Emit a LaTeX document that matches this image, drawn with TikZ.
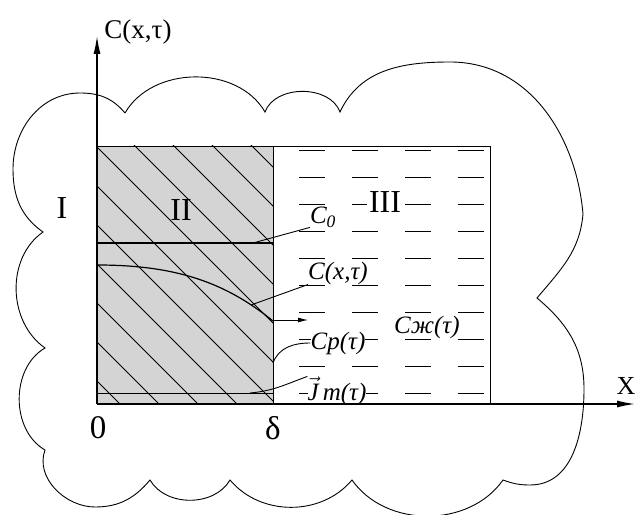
\documentclass[tikz,border=0pt]{standalone}
\usepackage{fontspec}
\setmainfont{Liberation Serif}
\usepackage{amsmath}
\usetikzlibrary{arrows.meta, positioning}

\begin{document}
\begin{tikzpicture}[x=1pt, y=1pt,
    vung/.style={font=\fontsize{32}{34}\selectfont},
    nhan/.style={font=\fontsize{25}{27}\selectfont\itshape, fill=white, inner sep=0pt},
    truc/.style={line width=1.4pt, -{Latex[length=18pt,width=7pt]}},
    net/.style={line width=0.9pt}]
    \useasboundingbox (0,0) rectangle (636,514);

    % Vùng II: nền xám và gạch chéo
    \fill[black!17] (97,110) rectangle (273,368);
    \begin{scope}
        \clip (97,110) rectangle (273,368);
        \foreach \k in {-9,...,4}
            \draw[line width=1pt] ({35+39*\k},468) -- ++(400,-400);
    \end{scope}

    % Vạch nét đứt trong vùng III
    \foreach \y [count=\i] in {364,337,...,121}{
        \pgfmathparse{isodd(\i) ? 26 : 49}
        \draw[net, dash pattern=on 26pt off 27pt, dash phase=\pgfmathresult pt]
            (273,\y) -- (490,\y);
    }

    % Khung và các đường
    \draw[net] (97,368) -- (490,368) -- (490,110);
    \draw[net] (273,110) -- (273,368);
    \draw[line width=1.2pt] (97,271) -- (273,271);
    \draw[net] (97,121) -- (273,121);
    \draw[line width=1.2pt] (97,249) .. controls (175,249) and (225,232) .. (273,193);
    \draw[net, -{Latex[length=10pt,width=5pt]}] (273,194) -- (308,194);

    % Nhãn các vùng
    \node[vung] (I) at (62,306) {I};
    \node[vung] (II) at (181,304) {II};
    \node[vung, fill=white, inner sep=2pt] (III) at (385,312) {III};
    \node[nhan] (C0) at (323,297) {C\textsubscript{0}};
    \node[nhan] (Cxt) at (338,241) {C(x,τ)};
    \node[nhan] (Czh) at (427,187) {Cж(τ)};
    \node[nhan] (Cp) at (338,171) {Cp(τ)};
    \node[nhan] (Jm) at (337,123) {$\vec{\text{\itshape J}}$\,m(τ)};

    % Đường chỉ dẫn
    \coordinate (c0goc) at (253,271);
    \coordinate (cxgoc) at (251,209);
    \coordinate (cpgoc) at (273,151);
    \coordinate (jmgoc) at (250,121);
    \draw[net] (c0goc) -- (C0.south west);
    \draw[net] (cxgoc) -- (Cxt.south west);
    \draw[net] (cpgoc) to[out=70,in=180] (Cp.west);
    \draw[net] (jmgoc) to[out=5,in=200] (Jm.north west);

    % Đường bao
    \draw[net] (125,401) to[out=60,in=120] (265,402) to[out=70,in=110] (340,402)
        to[out=65,in=180] (450,452) to[out=0,in=95] (583,300) to[out=-95,in=50] (537,216)
        to[out=-40,in=90] (584,125) to[out=-90,in=0] (530,29) to[out=180,in=-20] (503,34)
        to[out=-125,in=-55] (352,34) to[out=-130,in=-50] (230,34) to[out=-120,in=-60] (150,34)
        to[out=-130,in=0] (95,7) to[out=180,in=-110] (45,64)
        to[out=150,in=-150] (45,166) to[out=145,in=-145] (43,282)
        to[out=145,in=-90] (13,345) to[out=90,in=180] (80,421) to[out=0,in=130] (125,401);

    % Hệ trục tọa độ
    \coordinate (O) at (97,110);
    \coordinate (yend) at (97,478);
    \coordinate (xend) at (635,110);
    \draw[truc] (O) -- (yend);
    \draw[truc] (O) -- (xend);
    \node[font=\fontsize{27}{29}\selectfont] (Ctruc) at (138,482) {C(x,τ)};
    \node[font=\fontsize{26}{28}\selectfont] (Xtruc) at (626,128) {X};
    \node[font=\fontsize{33}{35}\selectfont] (goc0) at (98,86) {0};
    \node[font=\fontsize{33}{35}\selectfont] (delta) at (273,86) {δ};
\end{tikzpicture}
\end{document}
